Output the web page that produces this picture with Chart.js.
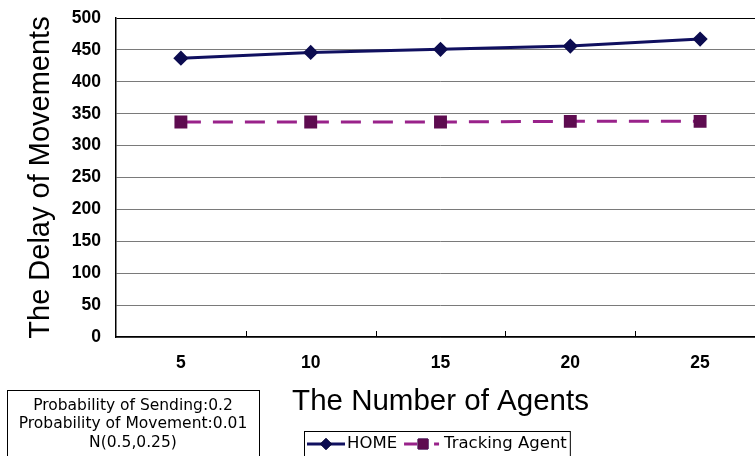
<!DOCTYPE html>
<html>
<head>
<meta charset="utf-8">
<script src="https://cdn.jsdelivr.net/npm/chart.js@4/dist/chart.umd.min.js"></script>
<style>
  html, body { margin: 0; padding: 0; background: #fff; overflow: hidden; }
  #wrap { width: 755px; height: 456px; overflow: hidden; position: relative; background: #fff; }
  canvas { display: block; }
</style>
</head>
<body>
<div id="wrap"><canvas id="c" width="770" height="456"></canvas></div>
<script>
// Number of agents on the x axis
const agentCounts = ['5', '10', '15', '20', '25'];
// Delay of movements for each scheme
const homeDelay = [437, 446, 451, 456, 467];
const trackingDelay = [337, 337, 337, 338, 338];
const seriesNames = ['HOME', 'Tracking Agent'];
// Y axis range
const delayMin = 0;
const delayMax = 500;
const delayStep = 50;
// Simulation parameters shown in the note box
const noteLines = ['Probability of Sending:0.2', 'Probability of Movement:0.01', 'N(0.5,0.25)'];

const AXIS_FONT = "'Liberation Sans', Arial, sans-serif";
const NOTE_FONT = "'DejaVu Sans', sans-serif";

// Small inward tick marks at the category boundaries of the x axis
const innerTicks = {
  id: 'innerTicks',
  afterDatasetsDraw(chart) {
    const xs = chart.scales.x, ctx = chart.ctx;
    const bottom = chart.chartArea.bottom;
    ctx.save();
    ctx.strokeStyle = '#000';
    ctx.lineWidth = 1;
    for (let i = 0; i < agentCounts.length - 1; i++) {
      const x = Math.round((xs.getPixelForValue(i) + xs.getPixelForValue(i + 1)) / 2) + 0.5;
      ctx.beginPath();
      ctx.moveTo(x, bottom);
      ctx.lineTo(x, bottom - 6);
      ctx.stroke();
    }
    ctx.restore();
  }
};

// Framed box listing the simulation parameters
const noteBox = {
  id: 'noteBox',
  afterDraw(chart, args, opts) {
    const ctx = chart.ctx;
    ctx.save();
    ctx.strokeStyle = '#000';
    ctx.lineWidth = 1;
    ctx.strokeRect(opts.left + 0.5, opts.top + 0.5, opts.width, 120);
    ctx.fillStyle = '#000';
    ctx.font = opts.fontSize + 'px ' + NOTE_FONT;
    ctx.textAlign = 'center';
    ctx.textBaseline = 'middle';
    const cx = opts.left + opts.width / 2;
    noteLines.forEach((t, i) => ctx.fillText(t, cx, opts.firstLine + i * opts.lineGap));
    ctx.restore();
  }
};

// Framed legend with line + marker samples
const lineLegend = {
  id: 'lineLegend',
  afterDraw(chart, args, opts) {
    const ctx = chart.ctx;
    ctx.save();
    ctx.font = opts.fontSize + 'px ' + NOTE_FONT;
    ctx.textBaseline = 'middle';
    ctx.textAlign = 'left';
    let x = opts.left + 3;
    const y = opts.middle;
    chart.data.datasets.forEach((ds) => {
      const sw = opts.sampleWidth;
      ctx.save();
      ctx.strokeStyle = ds.borderColor;
      ctx.lineWidth = ds.borderWidth;
      ctx.setLineDash(ds.borderDash ? opts.sampleDash : []);
      ctx.beginPath();
      ctx.moveTo(x, y);
      ctx.lineTo(x + sw, y);
      ctx.stroke();
      ctx.restore();
      Chart.helpers.drawPoint(ctx, {
        pointStyle: ds.pointStyle,
        radius: ds.pointRadius,
        rotation: 0,
        borderWidth: 1
      }, x + sw / 2, y);
      ctx.fillStyle = ds.pointBackgroundColor;
      ctx.strokeStyle = ds.pointBorderColor;
      ctx.lineWidth = 1;
      ctx.fill();
      ctx.stroke();
      ctx.fillStyle = '#000';
      ctx.fillText(ds.label, x + sw + 2, y);
      x += sw + 2 + ctx.measureText(ds.label).width + opts.itemGap;
    });
    const right = x - opts.itemGap + 3;
    ctx.strokeStyle = '#000';
    ctx.lineWidth = 1;
    ctx.strokeRect(opts.left + 0.5, opts.top + 0.5, right - opts.left, 60);
    ctx.restore();
  }
};

new Chart(document.getElementById('c'), {
  type: 'line',
  data: {
    labels: agentCounts,
    datasets: [
      {
        label: seriesNames[0],
        data: homeDelay,
        borderColor: '#101060',
        backgroundColor: '#101060',
        borderWidth: 3,
        pointStyle: 'rectRot',
        pointRadius: 5.5,
        pointBackgroundColor: '#0c0c50',
        pointBorderColor: '#0c0c50',
        tension: 0
      },
      {
        label: seriesNames[1],
        data: trackingDelay,
        borderColor: '#99228a',
        backgroundColor: '#99228a',
        borderWidth: 3,
        borderDash: [20, 12],
        pointStyle: 'rect',
        pointRadius: 7,
        pointBackgroundColor: '#5e0c50',
        pointBorderColor: '#5e0c50',
        tension: 0
      }
    ]
  },
  options: {
    responsive: false,
    animation: false,
    devicePixelRatio: 1,
    layout: { autoPadding: false, padding: { left: 24, top: 18, right: 5, bottom: 0 } },
    plugins: {
      legend: { display: false },
      tooltip: { enabled: false },
      noteBox: { left: 7, top: 390, width: 252, fontSize: 15.5, firstLine: 406, lineGap: 18.3 },
      lineLegend: { left: 304, top: 431, middle: 444, fontSize: 16.5, sampleWidth: 38, itemGap: 7, sampleDash: [13, 17, 5, 10] }
    },
    scales: {
      x: {
        offset: true,
        grid: { display: false, drawTicks: false },
        border: { display: true, color: '#000', width: 1.5 },
        ticks: {
          color: '#000',
          padding: 16,
          font: { family: AXIS_FONT, size: 17.5, weight: 'bold' }
        },
        title: {
          display: true,
          text: 'The Number of Agents',
          color: '#000',
          font: { family: AXIS_FONT, size: 29.5 },
          padding: { top: 0, bottom: 36.3 }
        },
        // fixed band height for tick labels, title and the boxes beneath
        afterFit(scale) { scale.height = 119; }
      },
      y: {
        min: delayMin,
        max: delayMax,
        grid: {
          drawTicks: false,
          lineWidth: 1,
          color: (c) => (c.tick && c.tick.value === delayMax ? '#000' : '#7a7a7a')
        },
        border: { display: true, color: '#000', width: 1.5 },
        ticks: {
          stepSize: delayStep,
          color: '#000',
          padding: 15,
          font: { family: AXIS_FONT, size: 17.5, weight: 'bold' }
        },
        title: {
          display: true,
          text: 'The Delay of Movements',
          color: '#000',
          font: { family: AXIS_FONT, size: 29 },
          padding: { top: 0, bottom: 0 }
        },
        // fixed axis width; plot top/bottom follow the layout padding
        afterFit(scale) {
          scale.width = 92;
          scale.paddingTop = 0;
          scale.paddingBottom = 0;
        }
      }
    }
  },
  plugins: [innerTicks, noteBox, lineLegend]
});
</script>
</body>
</html>
